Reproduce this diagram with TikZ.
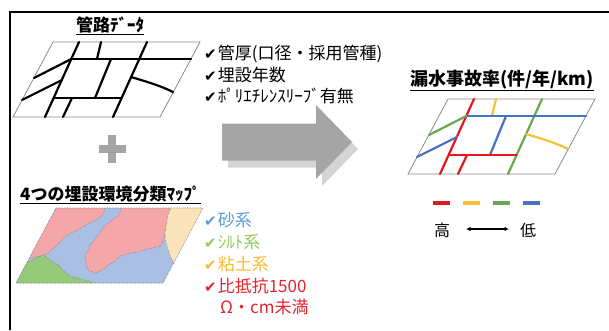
\documentclass[tikz,border=0pt]{standalone}
\usepackage{fontspec}
\setmainfont{Noto Sans CJK JP}
\newfontfamily\symfont{DejaVu Sans}
\usetikzlibrary{arrows.meta,decorations.pathmorphing}

\definecolor{plainred}{HTML}{E5161E}
\definecolor{plainyellow}{HTML}{F2C23C}
\definecolor{plaingreen}{HTML}{6AA84F}
\definecolor{plainblue}{HTML}{4472C4}
\definecolor{soilpink}{HTML}{F4A6A8}
\definecolor{soilblue}{HTML}{A9BFE3}
\definecolor{soilgreen}{HTML}{97C97A}
\definecolor{soilyellow}{HTML}{FBE4BC}
\definecolor{txtblue}{HTML}{5E9BD8}
\definecolor{txtgreen}{HTML}{93CC5A}
\definecolor{txtyellow}{HTML}{F7BB35}
\definecolor{txtred}{HTML}{E3262F}
\definecolor{arrowgray}{HTML}{A5A5A5}
\definecolor{arrowshade}{HTML}{D4D4D4}

\newcommand{\chkmk}{{\symfont\fontsize{15}{15}\selectfont ✔}\hspace{1pt}}

\begin{document}
\begin{tikzpicture}[x=1pt,y=-1pt,
  titletext/.style={inner sep=0pt, font=\fontsize{17}{20}\selectfont\bfseries},
  bodytext/.style={inner sep=0pt, anchor=west, font=\fontsize{17}{20}\selectfont},
  legendtext/.style={inner sep=0pt, font=\fontsize{16}{18}\selectfont},
  uline/.style={line width=1.3pt},
  plotframe/.style={draw=black!45, line width=0.8pt},
  pipe/.style={line width=2.2pt, line cap=round},
  rate/.style={line width=2.2pt, line cap=round},
  region/.style={draw=black!55, densely dotted, line width=0.5pt,
    decorate, decoration={random steps, segment length=1.8pt, amplitude=0.7pt}},
  swatch/.style={line width=3.5pt}
]
\useasboundingbox (0,0) rectangle (609,330);
\fill[white] (0,0) rectangle (609,330);

% outer frame (top and left sides)
\draw[line width=2pt] (9.5,330) -- (9.5,12) -- (609,12);

% ---------- pipe network data ----------
\node[titletext] (tpipe) at (110,25) {管路ﾃﾞｰﾀ};
\draw[uline] ([yshift=-1pt]tpipe.south west) -- ([yshift=-1pt]tpipe.south east);

\begin{scope}[shift={(53,42)}]
  \draw[plotframe] (0,0) -- (147,0) -- (107,75) -- (-40,75) -- cycle;
  \draw[pipe] (26,0) -- (-8,75);
  \draw[pipe] (48,0) -- (44,17);
  \draw[pipe] (94,0) -- (60,75);
  \draw[pipe] (18.3,17) -- (138,17);
  \draw[pipe] (58,17) -- (42,56);
  \draw[pipe] (0.6,56) -- (68.6,56);
  \draw[pipe] (19,56) -- (10,75);
  \draw[pipe] (18.3,17) -- (-19,36);
  \draw[pipe] (9,38) -- (-31,58);
  \draw[pipe] (78,35) .. controls (95,40) and (108,44) .. (120,50);
\end{scope}

\node[bodytext] (i1) at (204,54) {\chkmk 管厚(口径・採用管種)};
\node[bodytext] (i2) at (204,75) {\chkmk 埋設年数};
\node[bodytext] (i3) at (204,96) {\chkmk ﾎﾟﾘｴﾁﾚﾝｽﾘｰﾌﾞ有無};

% plus sign
\fill[arrowgray] (98.5,145) rectangle (125.5,153);
\fill[arrowgray] (108,135) rectangle (116,163);

% ---------- soil environment map ----------
\node[titletext, anchor=west] (tsoil) at (20,194) {4つの埋設環境分類ﾏｯﾌﾟ};
\draw[uline] ([yshift=-1pt]tsoil.south west) -- ([yshift=-1pt]tsoil.south east);

\begin{scope}
  \clip (56,208) -- (203,208) -- (163,283) -- (16,283) -- cycle;
  \fill[soilblue] (56,208) -- (203,208) -- (163,283) -- (16,283) -- cycle;
  % pink, west lobe
  \path[region, fill=soilpink] (40,204) -- (105,204) -- (104,212) -- (101,216) -- (97,219)
    -- (93,221) -- (89,223) -- (85,226) -- (81,228) -- (77,230) -- (73,232)
    -- (69,234) -- (65,237) -- (62,240) -- (59,243) -- (56,246) -- (53,249)
    -- (49,252) -- (44,255) -- (36,257) -- (20,259) -- (20,230) -- cycle;
  % pink, east blob
  \path[region, fill=soilpink] (121,204) -- (121,209) -- (119,215) -- (115,218) -- (111,221)
    -- (107,224) -- (103,228) -- (100,233) -- (97,237) -- (94,241) -- (91,244)
    -- (89,249) -- (86,253) -- (85,258) -- (86,263) -- (88,270) -- (96,273)
    -- (103,269) -- (110,264) -- (115,261) -- (120,256) -- (127,254) -- (133,253)
    -- (140,251) -- (147,249) -- (153,248) -- (160,246) -- (163,240) -- (165,233)
    -- (167,223) -- (168,217) -- (170,209) -- (170,204) -- cycle;
  % yellow strip
  \path[region, fill=soilyellow] (170,204) -- (210,204) -- (180,264) -- (174,262)
    -- (171,258) -- (169,252) -- (167,245) -- (165,238) -- (165,233)
    -- (167,223) -- (168,217) -- (170,209) -- cycle;
  % green corner
  \path[region, fill=soilgreen] (10,262) -- (27,262) -- (33,260) -- (38,257) -- (43,255)
    -- (46,257) -- (50,260) -- (54,262) -- (58,265) -- (62,269) -- (66,273)
    -- (70,276) -- (76,278) -- (84,280) -- (92,282) -- (97,286) -- (10,286) -- cycle;
\end{scope}
\draw[black!55, densely dotted, line width=0.6pt] (56,208) -- (203,208) -- (163,283) -- (16,283) -- cycle;

\node[bodytext, text=txtblue] (s1) at (204,220) {\chkmk 砂系};
\node[bodytext, text=txtgreen] (s2) at (204,242) {\chkmk ｼﾙﾄ系};
\node[bodytext, text=txtyellow] (s3) at (204,264) {\chkmk 粘土系};
\node[bodytext, text=txtred] (s4) at (204,286) {\chkmk 比抵抗1500};
\node[bodytext, text=txtred] (s5) at (220,307) {Ω・cm未満};

% ---------- big arrow ----------
\fill[arrowshade] (228,130.5) -- (322,130.5) -- (322,112) -- (358,149) -- (322,186)
  -- (322,167.5) -- (228,167.5) -- cycle;
\fill[arrowgray] (222,123.5) -- (316,123.5) -- (316,105) -- (352,142) -- (316,179)
  -- (316,160.5) -- (222,160.5) -- cycle;

% ---------- leakage rate map ----------
\node[titletext, anchor=west, font=\fontsize{18}{20}\selectfont\bfseries] (trate) at (410,80) {漏水事故率(件/年/km)};
\draw[uline] ([yshift=-1pt]trate.south west) -- ([yshift=-1pt]trate.south east);

\begin{scope}[shift={(448,99)}]
  \draw[plotframe] (0,0) -- (147,0) -- (107,75) -- (-40,75) -- cycle;
  \draw[rate, plainred] (26,0) -- (-8,75);
  \draw[rate, plainyellow] (48,0) -- (44,17);
  \draw[rate, plaingreen] (94,0) -- (60,75);
  \draw[rate, plainblue] (18.3,17) -- (138,17);
  \draw[rate, plainblue] (58,17) -- (42,56);
  \draw[rate, plainred] (0.6,56) -- (68.6,56);
  \draw[rate, plainred] (19,56) -- (10,75);
  \draw[rate, plaingreen] (18.3,17) -- (-19,36);
  \draw[rate, plainblue] (9,38) -- (-31,58);
  \draw[rate, plainyellow] (78,35) .. controls (95,40) and (108,44) .. (120,50);
\end{scope}

% colour scale
\draw[swatch, plainred] (433,203) -- (450,203);
\draw[swatch, plainyellow] (463,203) -- (480,203);
\draw[swatch, plaingreen] (493,203) -- (510,203);
\draw[swatch, plainblue] (523,203) -- (540,203);
\node[legendtext] (hi) at (442,230) {高};
\node[legendtext] (lo) at (528,230) {低};
\draw[line width=1.4pt, {Latex[length=4.5pt,width=4.5pt]}-{Latex[length=4.5pt,width=4.5pt]}] (466,229) -- (509,229);
\end{tikzpicture}
\end{document}
